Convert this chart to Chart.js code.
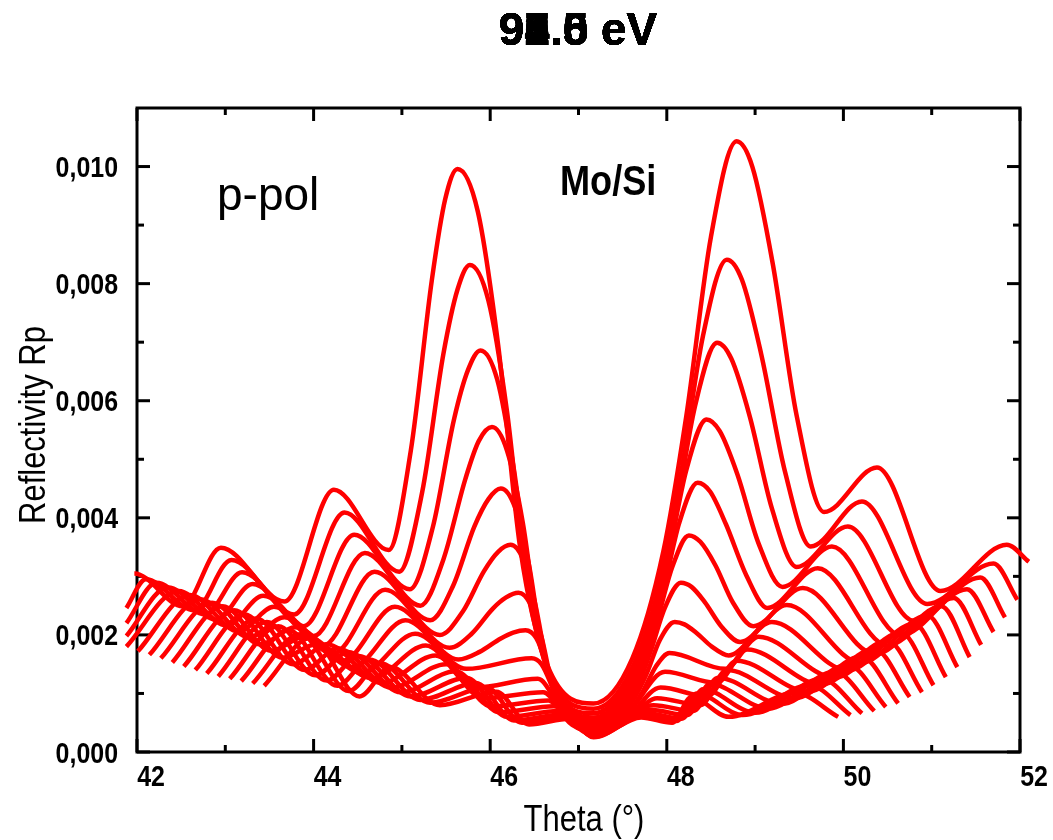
<!DOCTYPE html>
<html lang="en">
  <head>
    <meta charset="UTF-8" />
    <title>Mo/Si p-pol reflectivity</title>
    <style>
      html, body { margin: 0; padding: 0; background: #fff; }
      canvas { display: block; }
    </style>
  </head>
  <body>
    <canvas id="refl-chart" width="1053" height="840"></canvas>

    <script src="https://cdn.jsdelivr.net/npm/chart.js"></script>
    <script>
      // photon energies, one curve each (eV)
      const energies = [90.0, 90.5, 91.0, 91.5, 92.0, 92.5, 93.0, 93.5, 94.0,
                        94.5, 95.0, 95.5, 96.0, 96.5, 97.0, 97.5, 98.0];

      // [theta (deg), Rp (x 1e-3)]
      const r90_0 = [[41.88,2.75],[41.97,3.05],[42.52,2.49],[42.95,3.49],[43.67,2.57],[44.23,4.48],[44.85,3.45],[45.10,5.14],[45.34,8.07],[45.49,9.44],[45.63,9.96],[45.86,9.23],[46.09,6.95],[46.34,3.48],[46.65,1.47],[47.17,0.83],[47.61,1.60],[47.96,3.42],[48.22,5.73],[48.50,8.80],[48.79,10.43],[48.97,9.99],[49.20,8.34],[49.47,5.75],[49.78,4.10],[50.38,4.86],[51.10,2.75],[51.85,3.54],[52.10,3.25]];
      const r90_5 = [[41.88,2.46],[42.10,2.95],[42.65,2.42],[43.07,3.28],[43.78,2.35],[44.35,4.09],[44.97,3.08],[45.23,4.44],[45.47,6.80],[45.63,7.90],[45.77,8.32],[45.98,7.71],[46.19,5.82],[46.41,2.94],[46.69,1.27],[47.17,0.74],[47.58,1.35],[47.91,2.81],[48.15,4.65],[48.41,7.11],[48.68,8.41],[48.85,8.07],[49.07,6.79],[49.34,4.78],[49.63,3.51],[50.21,4.28],[50.95,2.53],[51.70,3.22],[51.97,2.60]];
      const r91_0 = [[41.88,2.20],[42.22,2.89],[42.77,2.35],[43.19,3.07],[43.89,2.15],[44.46,3.71],[45.09,2.78],[45.35,3.84],[45.59,5.68],[45.75,6.53],[45.89,6.86],[46.08,6.36],[46.27,4.81],[46.48,2.46],[46.73,1.09],[47.17,0.66],[47.55,1.17],[47.86,2.37],[48.08,3.89],[48.32,5.91],[48.57,6.99],[48.73,6.72],[48.94,5.73],[49.19,4.16],[49.47,3.16],[50.05,3.85],[50.80,2.24],[51.55,2.98],[51.83,2.30]];
      const r91_5 = [[41.88,1.98],[42.35,2.81],[42.90,2.26],[43.31,2.87],[44.00,1.98],[44.58,3.40],[45.21,2.50],[45.47,3.29],[45.72,4.67],[45.87,5.31],[46.02,5.55],[46.19,5.15],[46.37,3.91],[46.55,2.03],[46.78,0.94],[47.17,0.59],[47.52,1.00],[47.80,1.96],[48.00,3.19],[48.22,4.81],[48.45,5.68],[48.60,5.48],[48.80,4.74],[49.04,3.56],[49.31,2.82],[49.87,3.51],[50.65,1.99],[51.40,2.78],[51.70,2.05]];
      const r92_0 = [[41.88,1.80],[42.47,2.75],[43.02,2.16],[43.43,2.67],[44.11,1.82],[44.69,3.08],[45.32,2.25],[45.58,2.84],[45.82,3.85],[45.98,4.32],[46.12,4.50],[46.28,4.18],[46.44,3.19],[46.60,1.68],[46.81,0.81],[47.17,0.53],[47.49,0.86],[47.75,1.63],[47.94,2.61],[48.14,3.91],[48.35,4.60],[48.49,4.45],[48.67,3.89],[48.90,3.02],[49.14,2.46],[49.71,3.14],[50.50,1.82],[51.25,2.63],[51.56,1.83]];
      const r92_5 = [[42.01,1.72],[42.60,2.68],[43.15,2.06],[43.55,2.48],[44.22,1.68],[44.81,2.77],[45.43,2.00],[45.69,2.40],[45.93,3.09],[46.09,3.42],[46.23,3.54],[46.37,3.30],[46.51,2.53],[46.66,1.37],[46.85,0.69],[47.17,0.48],[47.46,0.74],[47.70,1.35],[47.87,2.12],[48.06,3.15],[48.25,3.70],[48.38,3.59],[48.55,3.19],[48.75,2.55],[48.98,2.15],[49.54,2.80],[50.36,1.67],[51.11,2.49],[51.43,1.62]];
      const r93_0 = [[42.14,1.66],[42.72,2.61],[43.27,1.96],[43.67,2.30],[44.33,1.56],[44.92,2.48],[45.54,1.78],[45.79,2.02],[46.03,2.45],[46.18,2.64],[46.32,2.72],[46.45,2.54],[46.58,1.97],[46.71,1.10],[46.88,0.60],[47.17,0.44],[47.44,0.64],[47.66,1.10],[47.81,1.69],[47.98,2.47],[48.16,2.89],[48.28,2.82],[48.43,2.56],[48.62,2.14],[48.83,1.88],[49.36,2.51],[50.20,1.52],[50.95,2.33],[51.29,1.45]];
      const r93_5 = [[42.27,1.60],[42.85,2.55],[43.40,1.84],[43.79,2.13],[44.44,1.45],[45.04,2.25],[45.64,1.58],[45.88,1.71],[46.12,1.94],[46.26,2.04],[46.40,2.08],[46.52,1.95],[46.63,1.53],[46.75,0.89],[46.91,0.52],[47.17,0.40],[47.42,0.55],[47.62,0.89],[47.77,1.33],[47.92,1.91],[48.09,2.22],[48.20,2.18],[48.34,2.03],[48.51,1.80],[48.70,1.65],[49.19,2.22],[50.05,1.39],[50.80,2.19],[51.16,1.28]];
      const r94_0 = [[42.40,1.53],[42.97,2.49],[43.52,1.73],[43.91,1.98],[44.55,1.35],[45.15,2.02],[45.73,1.42],[46.47,1.60],[46.58,1.50],[46.68,1.19],[46.79,0.73],[46.93,0.46],[47.17,0.37],[47.40,0.48],[47.59,0.73],[47.73,1.04],[47.88,1.47],[48.03,1.69],[48.66,1.42],[49.04,1.97],[49.90,1.27],[50.65,2.04],[51.02,1.14]];
      const r94_5 = [[42.53,1.46],[43.10,2.42],[43.65,1.61],[44.03,1.84],[44.66,1.26],[45.27,1.82],[45.83,1.10],[46.54,1.25],[46.82,0.70],[47.17,0.34],[47.55,0.65],[47.98,1.37],[48.56,1.18],[48.91,1.75],[49.75,1.15],[50.50,1.90],[50.89,1.02]];
      const r95_0 = [[42.66,1.40],[43.22,2.35],[43.77,1.50],[44.15,1.84],[44.77,1.18],[45.38,1.65],[45.92,0.92],[46.60,1.02],[46.86,0.60],[47.17,0.32],[47.53,0.55],[47.93,1.10],[48.46,0.95],[48.79,1.56],[49.60,1.03],[50.35,1.76],[50.75,0.94]];
      const r95_5 = [[42.79,1.34],[43.35,2.28],[43.90,1.40],[44.27,1.77],[44.88,1.10],[45.50,1.50],[46.01,0.78],[46.66,0.88],[46.90,0.52],[47.17,0.30],[47.51,0.48],[47.89,0.92],[48.38,0.80],[48.68,1.40],[49.45,0.92],[50.20,1.63],[50.62,0.83]];
      const r96_0 = [[42.92,1.29],[43.47,2.22],[44.02,1.31],[44.39,1.71],[44.99,1.02],[45.61,1.38],[46.10,0.68],[46.72,0.78],[47.17,0.29],[47.85,0.80],[48.30,0.70],[48.58,1.27],[49.30,0.82],[50.05,1.49],[50.48,0.77]];
      const r96_5 = [[43.05,1.25],[43.60,2.15],[44.15,1.22],[44.51,1.64],[45.10,0.95],[45.73,1.27],[46.19,0.60],[46.77,0.70],[47.17,0.28],[47.81,0.72],[48.23,0.63],[48.49,1.16],[49.15,0.74],[49.90,1.37],[50.35,0.70]];
      const r97_0 = [[43.18,1.21],[43.72,2.08],[44.27,1.13],[44.63,1.58],[45.21,0.89],[45.84,1.18],[46.27,0.54],[46.82,0.64],[47.17,0.27],[47.77,0.66],[48.17,0.57],[48.41,1.07],[49.00,0.67],[49.75,1.25],[50.21,0.66]];
      const r97_5 = [[43.31,1.17],[43.85,2.01],[44.40,1.04],[44.75,1.52],[45.32,0.84],[45.96,1.10],[46.36,0.50],[46.86,0.60],[47.17,0.26],[47.74,0.62],[48.11,0.53],[48.34,1.00],[48.86,0.63],[49.61,1.14],[50.08,0.63]];
      const r98_0 = [[43.44,1.13],[43.97,1.95],[44.52,0.95],[44.87,1.45],[45.43,0.80],[46.07,1.03],[46.44,0.47],[46.90,0.57],[47.17,0.25],[47.71,0.59],[48.06,0.50],[48.28,0.94],[48.70,0.60],[49.45,1.01],[49.94,0.60]];

      const curves = [r90_0, r90_5, r91_0, r91_5, r92_0, r92_5, r93_0, r93_5, r94_0,
                      r94_5, r95_0, r95_5, r96_0, r96_5, r97_0, r97_5, r98_0];

      // minor tick positions (major ones come from the scales)
      const thetaMinor = [43, 45, 47, 49, 51];
      const rMinor = [0.001, 0.003, 0.005, 0.007, 0.009];

      const FONT = "'Liberation Sans', Arial, Helvetica, sans-serif";
      const SQUEEZE = 0.86; // labels are set a bit condensed

      // text squeezed horizontally along its own direction
      function squeezedText(ctx, text, x, y, font, align, angle) {
        ctx.save();
        ctx.translate(x, y);
        if (angle) ctx.rotate(angle);
        ctx.scale(SQUEEZE, 1);
        ctx.font = font;
        ctx.textAlign = align;
        ctx.textBaseline = "alphabetic";
        ctx.fillText(text, 0, 0);
        ctx.restore();
      }

      const fmtR = (v) => v.toFixed(3).replace(".", ",");

      // box frame with inward ticks on all four sides, plus the free texts
      const framePlugin = {
        id: "frame",
        beforeDatasetsDraw(chart) {
          const { ctx, chartArea: a, scales } = chart;
          const x = scales.x, y = scales.y;
          ctx.save();
          ctx.strokeStyle = "#000";
          ctx.lineWidth = 3;
          ctx.lineCap = "butt";
          ctx.strokeRect(a.left, a.top, a.right - a.left, a.bottom - a.top);
          const seg = (x1, y1, x2, y2) => {
            ctx.beginPath();
            ctx.moveTo(x1, y1);
            ctx.lineTo(x2, y2);
            ctx.stroke();
          };
          x.ticks.forEach((t) => {
            const px = x.getPixelForValue(t.value);
            seg(px, a.bottom, px, a.bottom - 13);
            seg(px, a.top, px, a.top + 13);
          });
          thetaMinor.forEach((v) => {
            const px = x.getPixelForValue(v);
            seg(px, a.bottom, px, a.bottom - 7);
            seg(px, a.top, px, a.top + 7);
          });
          y.ticks.forEach((t) => {
            const py = y.getPixelForValue(t.value);
            seg(a.left, py, a.left + 13, py);
            seg(a.right, py, a.right - 13, py);
          });
          rMinor.forEach((v) => {
            const py = y.getPixelForValue(v);
            seg(a.left, py, a.left + 7, py);
            seg(a.right, py, a.right - 7, py);
          });
          ctx.restore();
        },
        afterDraw(chart) {
          const { ctx, scales } = chart;
          const x = scales.x, y = scales.y;
          ctx.save();
          ctx.fillStyle = "#000";

          const tickFont = "bold 29px " + FONT;
          x.ticks.forEach((t) => {
            squeezedText(ctx, String(t.value), x.getPixelForValue(t.value) + 14, 786, tickFont, "center");
          });
          y.ticks.forEach((t) => {
            squeezedText(ctx, fmtR(t.value), 118, y.getPixelForValue(t.value) + 10.5, tickFont, "right");
          });

          // one title per energy, all stacked on the same spot
          ctx.font = "bold 46px " + FONT;
          ctx.textAlign = "center";
          ctx.textBaseline = "alphabetic";
          energies.forEach((e) => ctx.fillText(e.toFixed(1) + " eV", 578, 45));

          squeezedText(ctx, "Theta (°)", 584, 831, "36px " + FONT, "center");
          squeezedText(ctx, "Reflectivity Rp", 45, 425, "36px " + FONT, "center", -Math.PI / 2);

          ctx.font = "46px " + FONT;
          ctx.textAlign = "left";
          ctx.fillText("p-pol", 217, 210);
          squeezedText(ctx, "Mo/Si", 560, 195, "bold 42px " + FONT, "left");
          ctx.restore();
        },
      };

      new Chart(document.getElementById("refl-chart"), {
        type: "line",
        data: {
          datasets: curves.map((c, i) => ({
            label: energies[i].toFixed(1) + " eV",
            data: c.map(([t, r]) => ({ x: t, y: r * 1e-3 })),
            borderColor: "#ff0000",
            borderWidth: 4.5,
            pointRadius: 0,
            fill: false,
            cubicInterpolationMode: "monotone",
            clip: false,
          })),
        },
        options: {
          responsive: false,
          devicePixelRatio: 1,
          animation: false,
          layout: { padding: { top: 108, right: 33, left: 0, bottom: 0 } },
          plugins: { legend: { display: false }, tooltip: { enabled: false } },
          scales: {
            x: {
              type: "linear",
              min: 42,
              max: 52,
              grid: { display: false },
              border: { display: false },
              ticks: { stepSize: 2, display: false },
              afterFit: (s) => { s.height = 88; },
            },
            y: {
              min: 0,
              max: 0.011,
              grid: { display: false },
              border: { display: false },
              ticks: { stepSize: 0.002, includeBounds: false, display: false },
              afterFit: (s) => { s.width = 137; },
            },
          },
        },
        plugins: [framePlugin],
      });
    </script>
  </body>
</html>
